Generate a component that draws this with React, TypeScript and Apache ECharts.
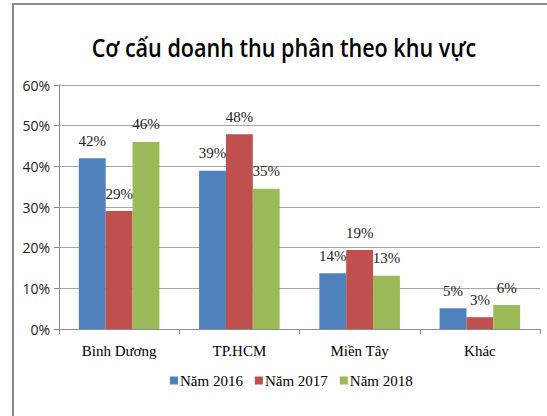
import React, { useEffect, useRef } from "react";
import * as echarts from "echarts";

const categories = ["Bình Dương", "TP.HCM", "Miền Tây", "Khác"];
const seriesNames = ["Năm 2016", "Năm 2017", "Năm 2018"];
const values2016 = [42, 38.9, 13.7, 5.1];
const values2017 = [29, 47.9, 19.4, 2.9];
const values2018 = [46, 34.5, 13.1, 5.9];
const colors = ["#4F81BD", "#C0504D", "#9BBB59"];
const yTicks = [0, 10, 20, 30, 40, 50, 60];
const titleText = "Cơ cấu doanh thu phân theo khu vực";

export default function App() {
  const ref = useRef<HTMLDivElement>(null);
  useEffect(() => {
    if (!ref.current) return;
    const chart = echarts.init(ref.current, undefined, { renderer: "svg" });
    const serif = "'Liberation Serif', 'Times New Roman', serif";
    const sans = "'Open Sans', 'Noto Sans', sans-serif";
    const allValues = [values2016, values2017, values2018];
    chart.setOption({
      animation: false,
      backgroundColor: "#ffffff",
      graphic: [
        {
          type: "polyline",
          shape: { points: [[13, 420], [13, 4], [550, 4]] },
          style: { stroke: "#8c8c8c", lineWidth: 2, fill: "none" },
        },
        {
          type: "text",
          x: 284,
          y: 47,
          scaleX: 0.83,
          style: {
            text: titleText,
            fontFamily: sans,
            fontSize: 26,
            fontWeight: 600,
            fill: "#000",
            align: "center",
            verticalAlign: "middle",
          },
        },
      ],
      legend: {
        bottom: 23,
        left: 165,
        itemWidth: 8,
        itemHeight: 8,
        itemGap: 12,
        icon: "rect",
        textStyle: { fontFamily: serif, fontSize: 15, color: "#000", padding: [0, 0, 0, -3] },
        data: seriesNames,
      },
      grid: { left: 59, right: 7, top: 85, bottom: 87, containLabel: false },
      xAxis: {
        type: "category",
        data: categories,
        axisLine: { lineStyle: { color: "#8c8c8c", width: 1 } },
        axisTick: { show: true, alignWithLabel: false, length: 5, lineStyle: { color: "#8c8c8c" } },
        axisLabel: { fontFamily: serif, fontSize: 15, color: "#000", margin: 14 },
      },
      yAxis: {
        type: "value",
        min: 0,
        max: 60,
        interval: 10,
        axisLine: { show: true, lineStyle: { color: "#8c8c8c", width: 1 } },
        axisTick: { show: true, length: 5, lineStyle: { color: "#8c8c8c" } },
        splitLine: { lineStyle: { color: "#a6a6a6", width: 1 } },
        axisLabel: {
          fontFamily: sans,
          fontSize: 14,
          color: "#222",
          margin: 9,
          formatter: (v: number) => (yTicks.includes(v) ? v + "%" : ""),
        },
      },
      series: seriesNames.map((name, i) => ({
        name,
        type: "bar",
        data: allValues[i],
        barGap: "0%",
        barCategoryGap: "33%",
        itemStyle: { color: colors[i] },
        label: {
          show: true,
          position: "top",
          distance: 10,
          fontFamily: serif,
          fontSize: 15,
          color: "#222",
          formatter: (p: any) => Math.round(p.value) + "%",
        },
      })),
    });
    return () => chart.dispose();
  }, []);
  return (
    <div
      ref={ref}
      style={{ position: "fixed", left: 0, top: 0, width: 547, height: 416 }}
    />
  );
}
